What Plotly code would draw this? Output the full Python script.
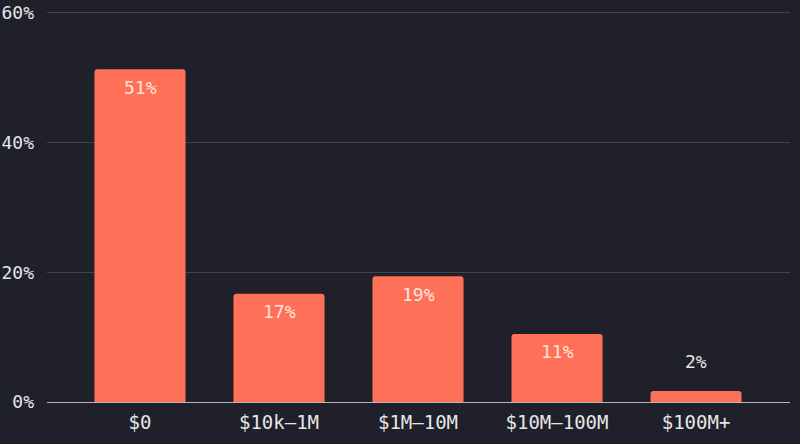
import plotly.graph_objects as go

# datos
categories = ['$0', '$10k–1M', '$1M–10M', '$10M–100M', '$100M+']
shares = [51.3, 16.7, 19.4, 10.5, 1.7]
labels = ['51%', '17%', '19%', '11%', '2%']
y_ticks = [0, 20, 40, 60]
y_tick_labels = ['0%', '20%', '40%', '60%']

BG = '#1f2029'
BAR = '#ff7059'
FONT = "'DejaVu Sans Mono', 'Liberation Mono', monospace"

fig = go.Figure(go.Bar(
    x=categories, y=shares,
    marker=dict(color=BAR, line=dict(width=0), cornerradius=3),
    width=0.655,
    hoverinfo='skip',
))

# etiquetas: dentro de la barra si cabe, encima si no
for cat, val, lab in zip(categories, shares, labels):
    inside = val > 5
    fig.add_annotation(
        x=cat, y=val, text=lab, showarrow=False,
        yanchor='middle', yshift=-18 if inside else 29,
        font=dict(family=FONT, size=18,
                  color='#ffe4da' if inside else '#e6e6e6'),
    )

fig.update_layout(
    width=800, height=444,
    paper_bgcolor=BG, plot_bgcolor=BG,
    margin=dict(l=47, r=10, t=9, b=42),
    showlegend=False,
    font=dict(family=FONT, size=19, color='#e6e6e6'),
)
fig.update_xaxes(
    range=[-0.669, 4.676], showgrid=False, zeroline=False,
    showline=False, ticks='', ticklabelstandoff=7,
    automargin=False,
    tickfont=dict(size=19, color='#e6e6e6'),
)
fig.update_yaxes(
    range=[0, 60.6], tickvals=y_ticks, ticktext=y_tick_labels,
    showgrid=True, gridcolor='#42434d', gridwidth=1,
    zeroline=True, zerolinecolor='#b8b8bc', zerolinewidth=1,
    ticks='', ticklabelposition='outside left',
    ticklabelstandoff=12, automargin=False,
    tickfont=dict(size=18, color='#e6e6e6'),
)

# quitar el margen por defecto del body
fig.write_html(
    'out.html',
    config={'displayModeBar': False},
    post_script="document.body.style.margin='0';"
                "document.body.style.background='#1f2029';",
)
